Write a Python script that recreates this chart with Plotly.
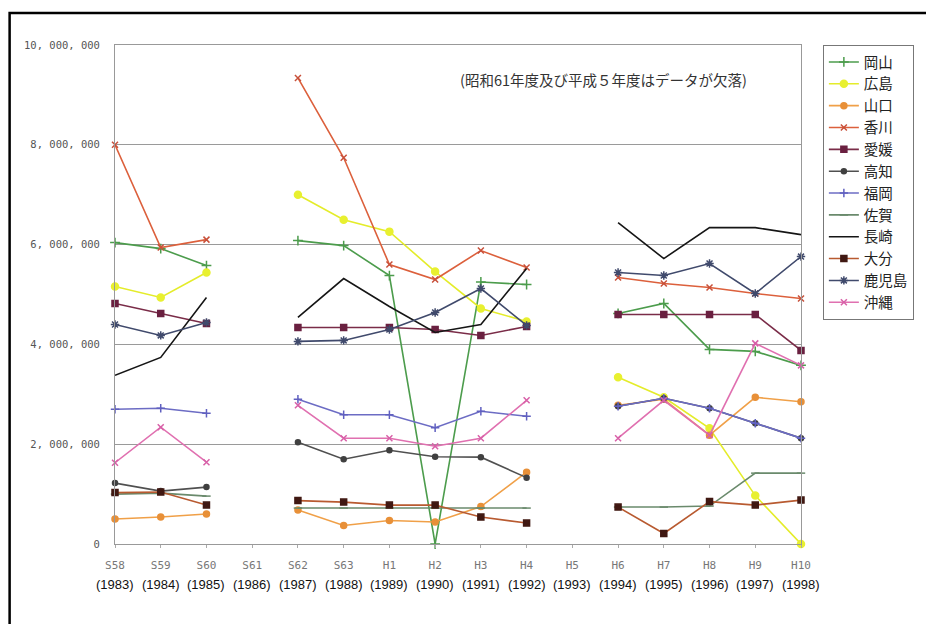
import plotly.graph_objects as go

# Fiscal-year categories (two gaps: S61 and H5 have no data)
eras = ["S58", "S59", "S60", "S61", "S62", "S63", "H1", "H2", "H3", "H4",
        "H5", "H6", "H7", "H8", "H9", "H10"]
years = ["(1983)", "(1984)", "(1985)", "(1986)", "(1987)", "(1988)", "(1989)", "(1990)",
         "(1991)", "(1992)", "(1993)", "(1994)", "(1995)", "(1996)", "(1997)", "(1998)"]

okayama   = [6040000, 5920000, 5580000, None, 6080000, 5980000, 5380000, 0, 5250000, 5200000, None, 4620000, 4820000, 3900000, 3860000, 3580000]
hiroshima = [5160000, 4940000, 5440000, None, 7000000, 6500000, 6260000, 5460000, 4720000, 4460000, None, 3340000, 2940000, 2320000, 970000, 0]
yamaguchi = [500000, 540000, 600000, None, 680000, 370000, 470000, 440000, 750000, 1440000, None, 2780000, 2900000, 2180000, 2940000, 2850000]
kagawa    = [8000000, 5940000, 6100000, None, 9340000, 7740000, 5600000, 5300000, 5880000, 5540000, None, 5340000, 5220000, 5140000, 5020000, 4920000]
ehime     = [4820000, 4620000, 4420000, None, 4340000, 4340000, 4340000, 4300000, 4180000, 4360000, None, 4600000, 4600000, 4600000, 4600000, 3880000]
kochi     = [1220000, 1060000, 1140000, None, 2040000, 1700000, 1880000, 1750000, 1740000, 1330000, None, 2760000, 2920000, 2720000, 2420000, 2120000]
fukuoka   = [2700000, 2720000, 2620000, None, 2900000, 2590000, 2590000, 2330000, 2660000, 2560000, None, 2760000, 2920000, 2720000, 2420000, 2120000]
saga      = [1000000, 1020000, 960000, None, 720000, 720000, 720000, 720000, 720000, 720000, None, 740000, 740000, 760000, 1420000, 1420000]
nagasaki  = [3380000, 3740000, 4940000, None, 4540000, 5320000, 4760000, 4240000, 4400000, 5520000, None, 6440000, 5720000, 6340000, 6340000, 6200000]
oita      = [1030000, 1040000, 780000, None, 870000, 840000, 780000, 780000, 540000, 420000, None, 740000, 210000, 850000, 780000, 880000]
kagoshima = [4400000, 4180000, 4440000, None, 4060000, 4080000, 4300000, 4640000, 5120000, 4380000, None, 5440000, 5380000, 5620000, 5020000, 5760000]
okinawa   = [1630000, 2340000, 1640000, None, 2780000, 2120000, 2120000, 1960000, 2120000, 2880000, None, 2120000, 2880000, 2180000, 4020000, 3580000]

y_ticks = [0, 2000000, 4000000, 6000000, 8000000, 10000000]
y_tick_text = ["0", "2, 000, 000", "4, 000, 000", "6, 000, 000", "8, 000, 000", "10, 000, 000"]

note = "(昭和61年度及び平成５年度はデータが欠落)"

series = [
    ("岡山", okayama,   "#4c9c4c", "#4c9c4c", "cross-thin-open", 7),
    ("広島", hiroshima, "#e4ec2a", "#e8f030", "circle", 7),
    ("山口", yamaguchi, "#f0a048", "#e89038", "circle", 6),
    ("香川", kagawa,    "#dc603c", "#c8503a", "x-thin-open", 6),
    ("愛媛", ehime,     "#7a2c48", "#6a2040", "square", 6),
    ("高知", kochi,     "#505050", "#404040", "circle", 5),
    ("福岡", fukuoka,   "#6c6cc4", "#6060c0", "cross-thin-open", 6),
    ("佐賀", saga,      "#6a8a6c", "#6a8a6c", "line-ew-open", 6),
    ("長崎", nagasaki,  "#151515", "#151515", None, 0),
    ("大分", oita,      "#b85a30", "#401812", "square", 6),
    ("鹿児島", kagoshima, "#404a6c", "#404a6c", "asterisk-open", 7),
    ("沖縄", okinawa,   "#e070b0", "#d860a8", "x-thin-open", 6),
]

# plot-area geometry in pixels, used to place the frame and free text
L, R, T, B = 115, 805, 45, 544
W, H = R - L, B - T


def px(xp):
    return (xp - L) / W


def py(yp):
    return (B - yp) / H


x_idx = list(range(len(eras)))

fig = go.Figure()
for name, vals, lcol, mcol, sym, msize in series:
    if sym is None:
        mode = "lines"
        marker = None
    else:
        mode = "lines+markers"
        marker = dict(symbol=sym, size=msize, color=mcol,
                      line=dict(color=mcol, width=1.5))
    fig.add_trace(go.Scatter(
        x=x_idx, y=vals, name=name, mode=mode,
        line=dict(color=lcol, width=1.6),
        marker=marker, cliponaxis=False, connectgaps=False,
    ))

# year labels under the era tick labels
for i, yr in enumerate(years):
    fig.add_annotation(x=i, y=py(584), xref="x", yref="paper", text=yr,
                       showarrow=False, yanchor="middle", xanchor="center",
                       font=dict(family="Liberation Sans, Arial", size=13, color="#111"))

fig.add_annotation(x=px(606), y=py(80), xref="paper", yref="paper", text=note,
                   showarrow=False, xanchor="center", yanchor="middle",
                   font=dict(family="Noto Sans CJK JP", size=14.5, color="#333"))

# outer frame around the whole chart
fig.add_shape(type="rect", xref="paper", yref="paper",
              x0=px(9), x1=px(935), y0=py(640), y1=py(13),
              line=dict(color="#000", width=2.5), layer="below")

fig.update_layout(
    width=926, height=624,
    margin=dict(l=L, r=926 - R, t=T, b=624 - B),
    paper_bgcolor="white", plot_bgcolor="white",
    showlegend=True,
    legend=dict(x=px(827), y=1.0, xanchor="left", yanchor="top",
                bordercolor="#777", borderwidth=1, bgcolor="white",
                font=dict(family="Noto Sans CJK JP", size=14.5, color="#222"),
                itemwidth=30, tracegroupgap=0),
    font=dict(family="Noto Sans CJK JP"),
)

fig.update_xaxes(
    range=[0, 15], tickmode="array", tickvals=x_idx, ticktext=eras,
    showgrid=False, zeroline=False,
    showline=True, linecolor="#999", linewidth=1, mirror=True,
    ticks="outside", ticklen=3, tickcolor="#aaa",
    tickfont=dict(family="DejaVu Sans Mono", size=11, color="#777"),
    ticklabelstandoff=8,
)
fig.update_yaxes(
    range=[0, 10000000], tickmode="array", tickvals=y_ticks, ticktext=y_tick_text,
    showgrid=True, gridcolor="#9a9a9a", gridwidth=1, zeroline=False,
    showline=True, linecolor="#999", linewidth=1, mirror=True,
    tickfont=dict(family="DejaVu Sans Mono", size=10.5, color="#555"),
    ticklabelstandoff=12,
)

fig.write_html("out.html")
